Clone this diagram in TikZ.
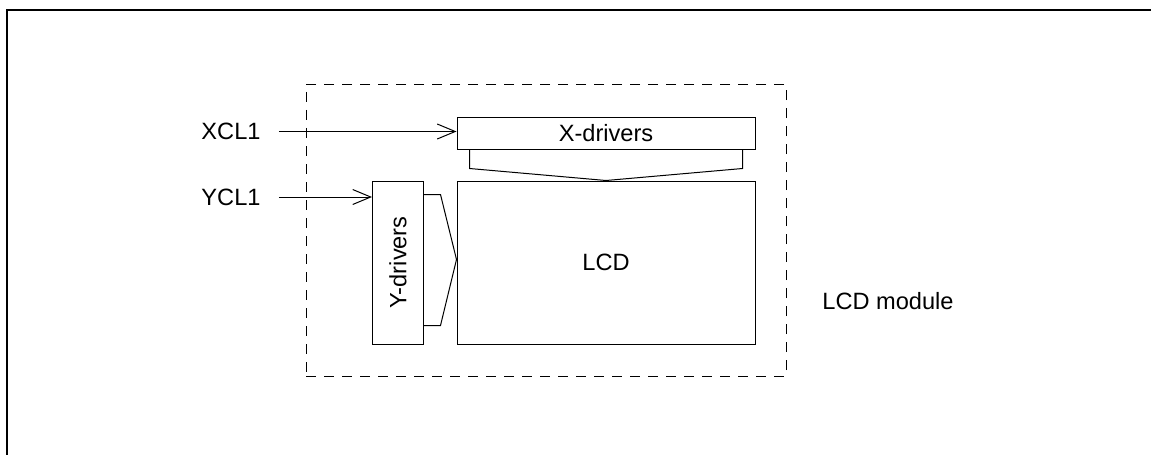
\documentclass[tikz,border=0pt]{standalone}
\usepackage{fontspec}
\setmainfont{Liberation Sans}
\usetikzlibrary{arrows.meta}
\begin{document}
\begin{tikzpicture}[x=0.5pt,y=-0.5pt,
  every node/.style={font=\fontsize{11.8}{13}\selectfont},
  box/.style={draw,line width=0.5pt,inner sep=0pt},
  lbl/.style={inner sep=0pt},
  arr/.style={line width=0.5pt,-{Straight Barb[length=9pt,width=7.5pt]}},
  thinline/.style={line width=0.5pt,line join=miter}]
\useasboundingbox (0,0) rectangle (1151,455);
\draw[line width=1pt] (6.5,455) -- (6.5,10) -- (1151,10);
\node[box,dash pattern=on 5pt off 4pt,minimum width=240pt,minimum height=146pt] (module) at (546,230) {};
\node[box,minimum width=149pt,minimum height=16pt] (xdrv) at (606,133) {X-drivers};
\node[box,minimum width=149pt,minimum height=81.5pt] (lcd) at (606,262.5) {LCD};
\node[box,minimum width=25.5pt,minimum height=81.5pt] (ydrv) at (398,262.5) {};
\node[lbl,rotate=90] (ytxt) at (ydrv.center) {Y-drivers};
\node[lbl] (xcl) at (231,131.5) {XCL1};
\node[lbl] (ycl) at (231,197) {YCL1};
\node[lbl] (mlabel) at (888,301) {LCD module};
\draw[arr] ([xshift=9pt]xcl.east) -- (xcl.east -| xdrv.west);
\draw[arr] ([xshift=9pt]ycl.east) -- (ycl.east -| ydrv.west);
\draw[thinline] ([xshift=6.5pt]xdrv.south west) -- ++(0,-9.5pt) -- (lcd.north)
  -- ([xshift=-6.5pt,yshift=-9.5pt]xdrv.south east) -- ([xshift=-6.5pt]xdrv.south east);
\draw[thinline] ([yshift=-7pt]ydrv.north east) -- ++(8.25pt,0) -- ([yshift=1.5pt]lcd.west)
  -- ([xshift=8.25pt,yshift=9.5pt]ydrv.south east) -- ([yshift=9.5pt]ydrv.south east);
\end{tikzpicture}
\end{document}
